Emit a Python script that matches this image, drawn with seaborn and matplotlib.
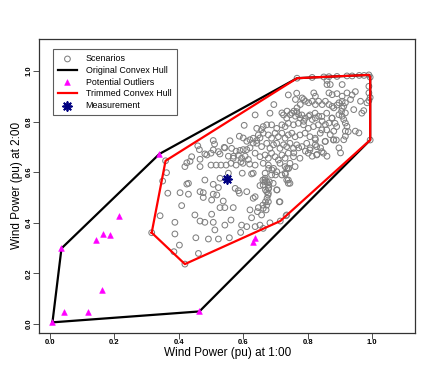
import numpy as np
import pandas as pd
import seaborn as sns
from matplotlib import pyplot as plt

# scenarios (wind power at 1:00, at 2:00)
top_x = [0.767, 0.814, 0.85, 0.866, 0.891, 0.922, 0.938, 0.96, 0.975, 0.99, 0.994,
         0.86, 0.86, 0.87, 0.907, 0.99, 0.99, 0.994, 0.99, 0.984, 0.994, 0.968, 0.974]
top_y = [0.971, 0.974, 0.976, 0.977, 0.978, 0.98, 0.98, 0.982, 0.982, 0.984, 0.975,
         0.962, 0.946, 0.946, 0.946, 0.939, 0.913, 0.895, 0.883, 0.874, 0.727, 0.833, 0.843]

upright_x = [0.819, 0.824, 0.866, 0.876, 0.891, 0.907, 0.922, 0.938, 0.948, 0.964,
             0.933, 0.907, 0.897, 0.891, 0.917, 0.912, 0.907, 0.905, 0.897, 0.943,
             0.783, 0.788, 0.793, 0.803, 0.814, 0.824, 0.834, 0.845, 0.855, 0.866,
             0.876, 0.881, 0.762, 0.777, 0.767, 0.695, 0.74, 0.766,
             0.72, 0.736, 0.746, 0.757, 0.762, 0.772, 0.777, 0.788, 0.803, 0.814,
             0.824, 0.834, 0.845, 0.855, 0.866, 0.876,
             0.917, 0.907, 0.912, 0.917, 0.922, 0.917, 0.917, 0.912, 0.948, 0.959,
             0.881, 0.897, 0.881, 0.87, 0.824, 0.824, 0.855, 0.84, 0.808, 0.793,
             0.814, 0.829, 0.86, 0.902, 0.772, 0.757, 0.926, 0.889]
upright_y = [0.913, 0.9, 0.913, 0.906, 0.91, 0.9, 0.913, 0.905, 0.918, 0.88,
             0.887, 0.88, 0.874, 0.865, 0.874, 0.86, 0.852, 0.84, 0.827, 0.847,
             0.893, 0.887, 0.88, 0.874, 0.88, 0.867, 0.88, 0.867, 0.88, 0.867,
             0.86, 0.854, 0.887, 0.867, 0.854, 0.867, 0.905, 0.912,
             0.834, 0.841, 0.827, 0.841, 0.821, 0.827, 0.814, 0.801, 0.821, 0.808,
             0.814, 0.821, 0.801, 0.788, 0.794, 0.814,
             0.834, 0.821, 0.808, 0.794, 0.781, 0.762, 0.742, 0.728, 0.762, 0.755,
             0.728, 0.696, 0.762, 0.748, 0.728, 0.709, 0.722, 0.696, 0.696, 0.683,
             0.663, 0.67, 0.663, 0.676, 0.696, 0.676, 0.76, 0.727]

core_x = [0.637, 0.683, 0.725, 0.735, 0.751, 0.766, 0.782, 0.792, 0.807, 0.823,
          0.844, 0.859, 0.875, 0.885, 0.89,
          0.642, 0.662, 0.673, 0.688, 0.704, 0.72, 0.73, 0.74, 0.756, 0.771,
          0.787, 0.802, 0.818, 0.833, 0.844, 0.859,
          0.631, 0.647, 0.662, 0.678, 0.688, 0.699, 0.709, 0.72, 0.73, 0.74,
          0.751, 0.761, 0.776, 0.792, 0.807, 0.823, 0.839, 0.854, 0.88,
          0.642, 0.657, 0.673, 0.683, 0.694, 0.704, 0.714, 0.725, 0.735, 0.745,
          0.756, 0.766, 0.782, 0.797, 0.807, 0.828, 0.844,
          0.637, 0.652, 0.668, 0.678, 0.688, 0.699, 0.709, 0.72, 0.73, 0.74,
          0.756, 0.776, 0.802, 0.828, 0.849,
          0.637, 0.662, 0.678, 0.694, 0.714, 0.73, 0.745, 0.761, 0.74,
          0.631, 0.668, 0.673, 0.662, 0.678, 0.704, 0.72, 0.735, 0.74, 0.688, 0.704]
core_y = [0.826, 0.833, 0.826, 0.813, 0.833, 0.839, 0.826, 0.813, 0.826, 0.833,
          0.82, 0.833, 0.813, 0.793, 0.78,
          0.773, 0.78, 0.787, 0.787, 0.773, 0.787, 0.78, 0.793, 0.787, 0.793,
          0.787, 0.773, 0.78, 0.787, 0.767, 0.767,
          0.734, 0.747, 0.754, 0.747, 0.734, 0.754, 0.74, 0.754, 0.734, 0.747,
          0.754, 0.74, 0.747, 0.754, 0.74, 0.734, 0.754, 0.721, 0.727,
          0.714, 0.701, 0.714, 0.694, 0.708, 0.714, 0.694, 0.708, 0.701, 0.714,
          0.694, 0.708, 0.701, 0.714, 0.688, 0.701, 0.681,
          0.675, 0.661, 0.668, 0.655, 0.675, 0.661, 0.648, 0.668, 0.655, 0.675,
          0.661, 0.655, 0.675, 0.668, 0.675,
          0.628, 0.635, 0.628, 0.615, 0.635, 0.622, 0.635, 0.622, 0.615,
          0.596, 0.576, 0.562, 0.549, 0.536, 0.53, 0.589, 0.569, 0.556, 0.589, 0.602]

upleft_x = [0.603, 0.657, 0.559, 0.507, 0.511, 0.588, 0.6, 0.611, 0.621, 0.631,
            0.642, 0.652, 0.464, 0.481, 0.5, 0.543, 0.564, 0.578, 0.59, 0.6,
            0.611, 0.621, 0.466, 0.554, 0.57, 0.585, 0.595, 0.606, 0.616, 0.425,
            0.435, 0.44, 0.459, 0.523, 0.528, 0.569, 0.593,
            0.5, 0.516, 0.531, 0.547, 0.562, 0.578, 0.599, 0.62, 0.466, 0.419,
            0.359, 0.362, 0.554, 0.597, 0.626, 0.668, 0.541, 0.487, 0.507]
upleft_y = [0.785, 0.768, 0.724, 0.725, 0.711, 0.742, 0.735, 0.722, 0.728, 0.715,
            0.725, 0.735, 0.689, 0.672, 0.675, 0.696, 0.694, 0.683, 0.686, 0.689,
            0.689, 0.696, 0.651, 0.663, 0.663, 0.667, 0.655, 0.663, 0.65, 0.637,
            0.643, 0.661, 0.704, 0.681, 0.672, 0.655, 0.641,
            0.628, 0.628, 0.628, 0.628, 0.635, 0.628, 0.635, 0.632, 0.622, 0.622,
            0.645, 0.598, 0.596, 0.596, 0.593, 0.596, 0.698, 0.668, 0.688]

low_x = [0.481, 0.528, 0.43, 0.575, 0.585, 0.611, 0.366, 0.404, 0.466, 0.476,
         0.518, 0.637, 0.668, 0.507, 0.523, 0.425, 0.35, 0.588, 0.652, 0.661,
         0.43, 0.476, 0.502, 0.507, 0.538, 0.631, 0.409, 0.528, 0.543, 0.569,
         0.621, 0.647, 0.661, 0.342, 0.45, 0.502, 0.466, 0.481, 0.507, 0.562,
         0.626, 0.388, 0.543, 0.512, 0.595, 0.611, 0.637, 0.652,
         0.388, 0.453, 0.492, 0.523, 0.557, 0.592, 0.402, 0.385, 0.461, 0.419, 0.316,
         0.681, 0.673, 0.678, 0.693, 0.73, 0.735, 0.74, 0.745, 0.714, 0.678,
         0.673, 0.662, 0.657, 0.644, 0.735, 0.683, 0.662,
         0.679, 0.689, 0.7, 0.741, 0.731, 0.667, 0.679, 0.679, 0.669, 0.677,
         0.674, 0.669, 0.671, 0.705, 0.712, 0.733, 0.715]
low_y = [0.569, 0.576, 0.556, 0.536, 0.527, 0.523, 0.517, 0.519, 0.523, 0.519,
         0.51, 0.503, 0.562, 0.552, 0.539, 0.553, 0.565, 0.517, 0.547, 0.569,
         0.513, 0.5, 0.49, 0.513, 0.486, 0.497, 0.468, 0.46, 0.46, 0.46,
         0.451, 0.46, 0.47, 0.428, 0.431, 0.434, 0.407, 0.402, 0.402, 0.411,
         0.42, 0.402, 0.391, 0.372, 0.391, 0.385, 0.385, 0.391,
         0.356, 0.341, 0.336, 0.336, 0.341, 0.362, 0.312, 0.286, 0.279, 0.237, 0.361,
         0.562, 0.523, 0.517, 0.556, 0.596, 0.615, 0.569, 0.556, 0.483, 0.483,
         0.47, 0.457, 0.431, 0.444, 0.431, 0.4, 0.378,
         0.615, 0.609, 0.589, 0.615, 0.592, 0.569, 0.549, 0.536, 0.53, 0.51,
         0.497, 0.483, 0.451, 0.53, 0.483, 0.428, 0.407]

# potential outliers
out_x = [0.008, 0.044, 0.119, 0.162, 0.464, 0.036, 0.143, 0.164, 0.186, 0.214, 0.34, 0.631, 0.637]
out_y = [0.007, 0.046, 0.046, 0.134, 0.05, 0.299, 0.332, 0.355, 0.352, 0.428, 0.672, 0.325, 0.339]

# measurement
meas_x = [0.55]
meas_y = [0.573]


def convex_hull(px, py):
    pts = sorted(set(zip(px, py)))

    def cross(o, a, b):
        return (a[0] - o[0]) * (b[1] - o[1]) - (a[1] - o[1]) * (b[0] - o[0])
    lower = []
    for p in pts:
        while len(lower) >= 2 and cross(lower[-2], lower[-1], p) <= 0:
            lower.pop()
        lower.append(p)
    upper = []
    for p in reversed(pts):
        while len(upper) >= 2 and cross(upper[-2], upper[-1], p) <= 0:
            upper.pop()
        upper.append(p)
    hull = lower[:-1] + upper[:-1]
    hull.append(hull[0])
    return np.array(hull)


scen = pd.DataFrame({'x': top_x + upright_x + core_x + upleft_x + low_x,
                     'y': top_y + upright_y + core_y + upleft_y + low_y})
outl = pd.DataFrame({'x': out_x, 'y': out_y})
meas = pd.DataFrame({'x': meas_x, 'y': meas_y})

hull_all = convex_hull(list(scen.x) + out_x, list(scen.y) + out_y)
hull_trim = convex_hull(list(scen.x), list(scen.y))

plt.rcParams['font.family'] = ['Liberation Sans', 'DejaVu Sans']
fig = plt.figure(figsize=(4.36, 3.82), dpi=100)
ax = fig.add_axes([0.090, 0.129, 0.8625, 0.769])

sns.scatterplot(data=scen, x='x', y='y', ax=ax, marker='o', s=17,
                facecolors='none', edgecolor='#808080', linewidth=0.75,
                label='Scenarios', zorder=2)
ax.plot(hull_all[:, 0], hull_all[:, 1], color='black', lw=1.6,
        label='Original Convex Hull', zorder=3)
sns.scatterplot(data=outl, x='x', y='y', ax=ax, marker='^', s=17,
                color='#ff00ff', edgecolor='#ff00ff', linewidth=0.4,
                label='Potential Outliers', zorder=4)
ax.plot(hull_trim[:, 0], hull_trim[:, 1], color='red', lw=1.6,
        label='Trimmed Convex Hull', zorder=5)
sns.scatterplot(data=meas, x='x', y='y', ax=ax, marker=(8, 2, 0), s=40,
                color='#000080', edgecolor='#000080', linewidth=1.3,
                label='Measurement', zorder=6)

ax.set_xlim(-0.033, 1.134)
ax.set_ylim(-0.034, 1.126)
ticks = [0.0, 0.2, 0.4, 0.6, 0.8, 1.0]
ax.set_xticks(ticks)
ax.set_yticks(ticks)
ax.set_xticklabels(['%.1f' % t for t in ticks], fontsize=5.5, fontweight='bold')
ax.set_yticklabels(['%.1f' % t for t in ticks], fontsize=5.5, fontweight='bold',
                   rotation=90, va='center')
ax.tick_params(direction='out', length=4, width=0.6, color='#333333', pad=0.8)
for sp in ax.spines.values():
    sp.set_linewidth(0.9)
    sp.set_color('#333333')
ax.set_xlabel('Wind Power (pu) at 1:00', fontsize=8.5)
ax.set_ylabel('Wind Power (pu) at 2:00', fontsize=8.5)
ax.xaxis.set_label_coords(0.5, -0.05)
ax.yaxis.set_label_coords(-0.044, 0.5)

leg = ax.legend(loc='upper left', bbox_to_anchor=(0.036, 0.966), borderaxespad=0,
                fontsize=6.4, frameon=True, fancybox=False, edgecolor='#333333',
                borderpad=0.6, handlelength=2.1, labelspacing=0.3,
                handletextpad=1.0)
leg.get_frame().set_linewidth(0.8)

fig.savefig('out.png', dpi=100)
